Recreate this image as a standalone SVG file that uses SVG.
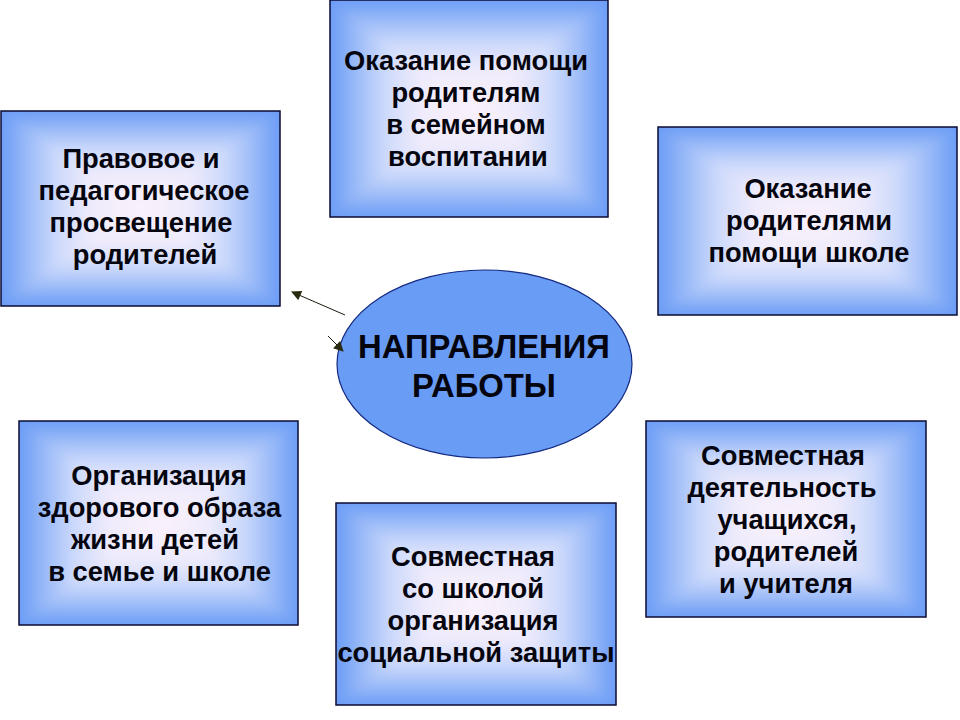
<svg xmlns="http://www.w3.org/2000/svg" width="960" height="720" viewBox="0 0 960 720">
<style>
.frame{fill:none;stroke:#0b0b33;stroke-width:1.5}
.h{fill:url(#gH)}
.v{fill:url(#gV)}
.e{fill:#6a9cf5}
.t{font-family:"Liberation Sans",Arial,sans-serif;font-weight:bold;font-size:27.3px;fill:#05050f;text-anchor:middle}
.big{font-size:32.8px}
.conn{stroke:#1a1a10;stroke-width:1;fill:none}
</style>
<defs>
<linearGradient id="gs">
<stop offset="0" stop-color="#faf1fa"/>
<stop offset="0.35" stop-color="#efebfc"/>
<stop offset="0.6" stop-color="#cddafb"/>
<stop offset="0.82" stop-color="#98b9f8"/>
<stop offset="1" stop-color="#6a9cf5"/>
</linearGradient>
<linearGradient id="gH" href="#gs" x1="0.5" y1="0" x2="1" y2="0" spreadMethod="reflect"/>
<linearGradient id="gV" href="#gs" x1="0" y1="0.5" x2="0" y2="1" spreadMethod="reflect"/>
<filter id="bl"><feGaussianBlur stdDeviation="6"/></filter>
<clipPath id="c1"><rect x="330" y="0" width="278" height="217"/></clipPath>
<clipPath id="c2"><rect x="1" y="111" width="279" height="195"/></clipPath>
<clipPath id="c3"><rect x="658" y="127" width="299" height="188"/></clipPath>
<clipPath id="c4"><rect x="19" y="421" width="279" height="204"/></clipPath>
<clipPath id="c5"><rect x="336" y="503" width="280" height="202"/></clipPath>
<clipPath id="c6"><rect x="646" y="421" width="280" height="196"/></clipPath>
<marker id="ah" viewBox="0 0 10 10" refX="9" refY="5" markerWidth="11" markerHeight="10" markerUnits="userSpaceOnUse" orient="auto">
<path d="M0,0 L10,5 L0,10 Z" fill="#2a2a10"/>
</marker>
</defs>

<g id="node-help-family">
<g clip-path="url(#c1)"><g filter="url(#bl)">
<rect class="e" x="310" y="-20" width="318" height="257"/>
<rect class="h" x="330" y="0" width="278" height="217"/>
<polygon class="v" points="330,0 608,0 469,108.5 608,217 330,217 469,108.5"/>
</g></g>
<rect class="frame" x="330" y="0" width="278" height="217"/>
<text class="t" x="466" y="70">Оказание помощи</text>
<text class="t" x="466" y="102">родителям</text>
<text class="t" x="466" y="134">в семейном</text>
<text class="t" x="468" y="166">воспитании</text>
</g>

<g id="node-legal">
<g clip-path="url(#c2)"><g filter="url(#bl)">
<rect class="e" x="-19" y="91" width="319" height="235"/>
<rect class="h" x="1" y="111" width="279" height="195"/>
<polygon class="v" points="1,111 280,111 140.5,208.5 280,306 1,306 140.5,208.5"/>
</g></g>
<rect class="frame" x="1" y="111" width="279" height="195"/>
<text class="t" x="141" y="168">Правовое и</text>
<text class="t" x="144" y="200">педагогическое</text>
<text class="t" x="141" y="232">просвещение</text>
<text class="t" x="145" y="264">родителей</text>
</g>

<g id="node-help-school">
<g clip-path="url(#c3)"><g filter="url(#bl)">
<rect class="e" x="638" y="107" width="339" height="228"/>
<rect class="h" x="658" y="127" width="299" height="188"/>
<polygon class="v" points="658,127 957,127 807.5,221 957,315 658,315 807.5,221"/>
</g></g>
<rect class="frame" x="658" y="127" width="299" height="188"/>
<text class="t" x="808" y="198">Оказание</text>
<text class="t" x="809" y="230">родителями</text>
<text class="t" x="809" y="262">помощи школе</text>
</g>

<g id="node-health">
<g clip-path="url(#c4)"><g filter="url(#bl)">
<rect class="e" x="-1" y="401" width="319" height="244"/>
<rect class="h" x="19" y="421" width="279" height="204"/>
<polygon class="v" points="19,421 298,421 158.5,523 298,625 19,625 158.5,523"/>
</g></g>
<rect class="frame" x="19" y="421" width="279" height="204"/>
<text class="t" x="159" y="485">Организация</text>
<text class="t" x="159.5" y="517">здорового образа</text>
<text class="t" x="155" y="549">жизни детей</text>
<text class="t" x="159.5" y="581">в семье и школе</text>
</g>

<g id="node-social">
<g clip-path="url(#c5)"><g filter="url(#bl)">
<rect class="e" x="316" y="483" width="320" height="242"/>
<rect class="h" x="336" y="503" width="280" height="202"/>
<polygon class="v" points="336,503 616,503 476,604 616,705 336,705 476,604"/>
</g></g>
<rect class="frame" x="336" y="503" width="280" height="202"/>
<text class="t" x="473" y="566">Совместная</text>
<text class="t" x="473" y="598">со школой</text>
<text class="t" x="473" y="630">организация</text>
<text class="t" x="476" y="662">социальной защиты</text>
</g>

<g id="node-joint">
<g clip-path="url(#c6)"><g filter="url(#bl)">
<rect class="e" x="626" y="401" width="320" height="236"/>
<rect class="h" x="646" y="421" width="280" height="196"/>
<polygon class="v" points="646,421 926,421 786,519 926,617 646,617 786,519"/>
</g></g>
<rect class="frame" x="646" y="421" width="280" height="196"/>
<text class="t" x="783" y="465">Совместная</text>
<text class="t" x="782" y="497">деятельность</text>
<text class="t" x="787" y="529">учащихся,</text>
<text class="t" x="786" y="561">родителей</text>
<text class="t" x="786" y="593">и учителя</text>
</g>

<g id="node-center">
<ellipse cx="484.5" cy="364" rx="147.5" ry="94" fill="#699cf5" stroke="#142a80" stroke-width="1.2"/>
<text class="t big" x="484" y="358">НАПРАВЛЕНИЯ</text>
<text class="t big" x="484" y="397">РАБОТЫ</text>
</g>

<g id="connectors">
<line class="conn" x1="345" y1="315" x2="292" y2="292" marker-end="url(#ah)"/>
<line class="conn" x1="328" y1="336" x2="343" y2="351" marker-end="url(#ah)"/>
</g>
</svg>
